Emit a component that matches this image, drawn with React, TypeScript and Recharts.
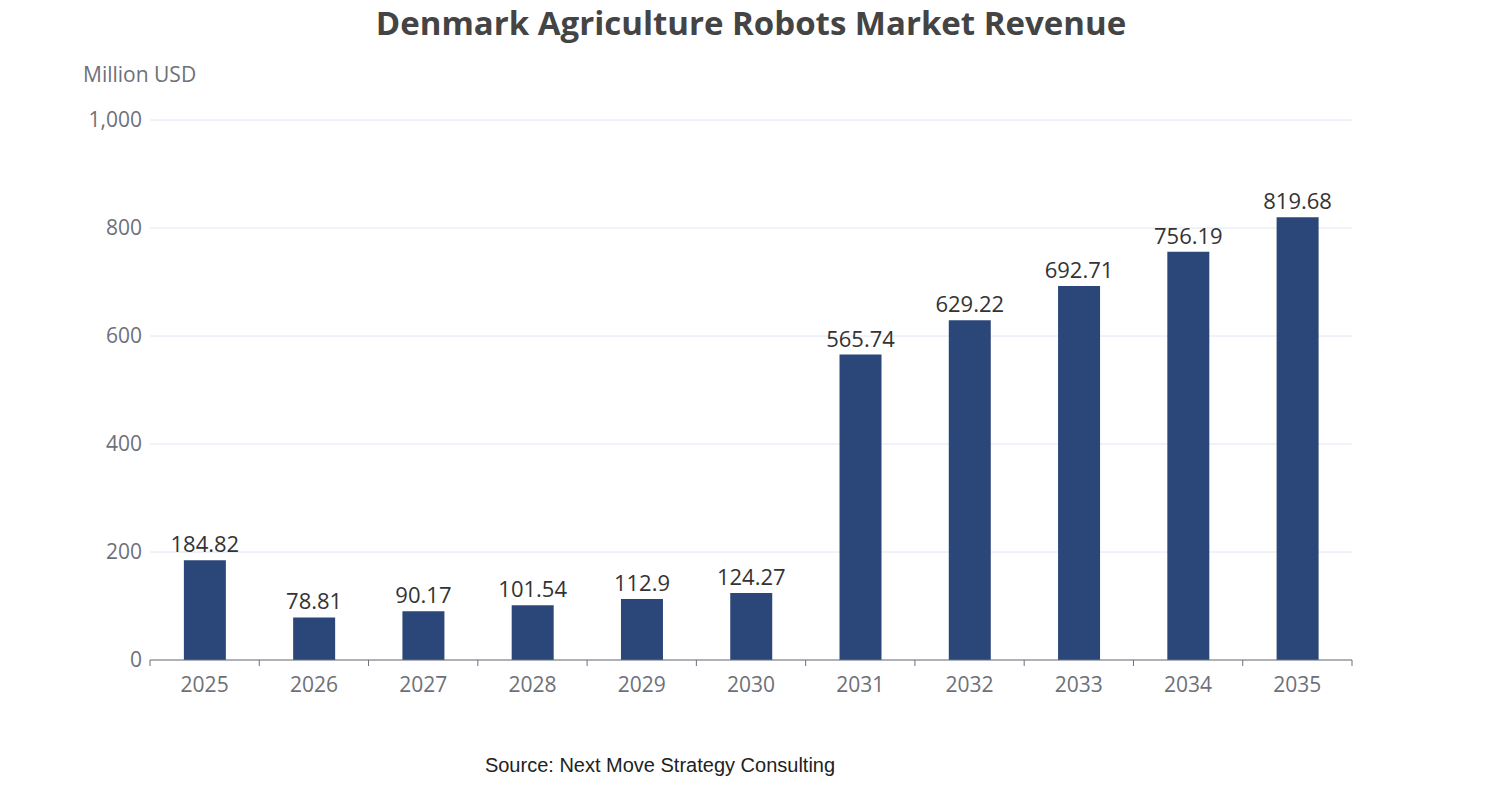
import { Bar, BarChart, CartesianGrid, LabelList, XAxis, YAxis } from "recharts";

const years = ["2025", "2026", "2027", "2028", "2029", "2030", "2031", "2032", "2033", "2034", "2035"];
const revenue = [184.82, 78.81, 90.17, 101.54, 112.9, 124.27, 565.74, 629.22, 692.71, 756.19, 819.68];
const yTicks = [0, 200, 400, 600, 800, 1000];

const data = years.map((year, i) => ({ year, value: revenue[i] }));

const BAND = 1202 / years.length;

function XTick(props: any) {
  const { x, y, payload, index } = props;
  const last = index === years.length - 1;
  return (
    <g>
      <line x1={x - BAND / 2} x2={x - BAND / 2} y1={y - 8} y2={y - 2} stroke="#6e7079" />
      {last && <line x1={x + BAND / 2} x2={x + BAND / 2} y1={y - 8} y2={y - 2} stroke="#6e7079" />}
      <text x={x} y={y + 24} textAnchor="middle" fill="#6e7079" fontSize={21} fontFamily="Open Sans">
        {payload.value}
      </text>
    </g>
  );
}

export default function App() {
  return (
    <div style={{ position: "absolute", left: 0, top: 0, width: 1502, height: 800, background: "#fff" }}>
      <div style={{ position: "absolute", top: 0, width: 1502, textAlign: "center", fontFamily: "Open Sans", fontWeight: 700, fontSize: 33, color: "#444", lineHeight: "46px" }}>
        Denmark Agriculture Robots Market Revenue
      </div>
      <div style={{ position: "absolute", left: 83, top: 60, fontFamily: "Open Sans", fontSize: 21, color: "#6e7079" }}>
        Million USD
      </div>
      <BarChart width={1502} height={800} data={data} margin={{ top: 120, right: 150, left: 90, bottom: 110 }} barCategoryGap="31%">
        <CartesianGrid vertical={false} stroke="#e0e6f1" />
        <XAxis dataKey="year" height={30} tick={<XTick />} tickLine={false} axisLine={{ stroke: "#6e7079" }} interval={0} />
        <YAxis
          width={60}
          domain={[0, 1000]}
          ticks={yTicks}
          tickFormatter={(v: number) => v.toLocaleString("en-US")}
          tick={{ fill: "#6e7079", fontSize: 21, fontFamily: "Open Sans" }}
          axisLine={false}
          tickLine={false}
        />
        <Bar dataKey="value" fill="#2b4779" isAnimationActive={false}>
          <LabelList dataKey="value" position="top" offset={8} fill="#333" fontSize={22} fontFamily="Open Sans" />
        </Bar>
      </BarChart>
      <div style={{ position: "absolute", top: 754, left: 0, width: 1320, textAlign: "center", fontFamily: "Liberation Sans", fontSize: 20, color: "#222" }}>
        Source: Next Move Strategy Consulting
      </div>
    </div>
  );
}
